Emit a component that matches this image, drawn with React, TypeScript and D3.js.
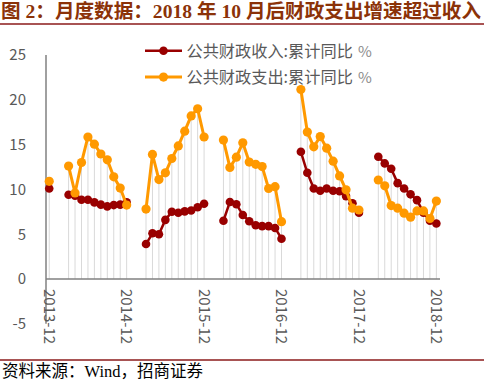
import React from 'react';
import * as d3 from 'd3';

const categories: string[] = [
  '2013-12',
  '2014-01','2014-02','2014-03','2014-04','2014-05','2014-06','2014-07','2014-08','2014-09','2014-10','2014-11','2014-12',
  '2015-01','2015-02','2015-03','2015-04','2015-05','2015-06','2015-07','2015-08','2015-09','2015-10','2015-11','2015-12',
  '2016-01','2016-02','2016-03','2016-04','2016-05','2016-06','2016-07','2016-08','2016-09','2016-10','2016-11','2016-12',
  '2017-01','2017-02','2017-03','2017-04','2017-05','2017-06','2017-07','2017-08','2017-09','2017-10','2017-11','2017-12',
  '2018-01','2018-02','2018-03','2018-04','2018-05','2018-06','2018-07','2018-08','2018-09','2018-10','2018-11','2018-12',
];

// 公共财政收入:累计同比 %
const revenue: (number | null)[] = [
  10.1,
  null, null, 9.4, 9.3, 8.85, 8.85, 8.55, 8.3, 8.1, 8.25, 8.3, 8.55,
  null, null, 3.9, 5.1, 5.0, 6.6, 7.5, 7.4, 7.55, 7.65, 8.0, 8.4,
  null, null, 6.5, 8.6, 8.35, 7.15, 6.45, 6.0, 5.9, 5.9, 5.7, 4.5,
  null, null, 14.2, 11.85, 10.1, 9.85, 10.1, 9.85, 9.8, 9.25, 8.45, 7.4,
  null, null, 13.65, 12.9, 12.3, 10.7, 10.1, 9.45, 8.8, 7.4, 6.5, 6.2,
];

// 公共财政支出:累计同比 %
const expenditure: (number | null)[] = [
  10.9,
  null, null, 12.6, 9.6, 13.0, 15.85, 15.05, 13.95, 13.3, 11.4, 10.15, 8.25,
  null, null, 7.8, 13.9, 11.1, 11.85, 13.45, 14.85, 16.5, 18.2, 19.0, 15.85,
  null, null, 15.5, 12.45, 13.6, 15.2, 13.05, 12.8, 12.55, 10.1, 10.3, 6.4,
  null, null, 21.15, 16.4, 14.75, 15.9, 14.6, 13.15, 11.5, 9.95, 7.9, 7.7,
  null, null, 11.05, 10.4, 8.2, 7.9, 7.35, 6.9, 7.6, 7.6, 6.75, 8.7,
];

const yTicks = [25, 20, 15, 10, 5, 0, -5];
const xTickLabels = ['2013-12', '2014-12', '2015-12', '2016-12', '2017-12', '2018-12'];
const seriesNames = ['公共财政收入:累计同比', '公共财政支出:累计同比'];
const seriesUnit = '%';
const titleText = '图 2：月度数据：2018 年 10 月后财政支出增速超过收入';
const sourceText = '资料来源：Wind，招商证券';

const RED = '#990000';
const ORANGE = '#FF9900';
const GRAY_TEXT = '#595959';
const FONT = '"Noto Sans CJK SC", "Noto Sans", sans-serif';
const SERIF = '"Liberation Serif", "DejaVu Serif", "Noto Sans CJK SC", serif';

export default function App() {
  const W = 484;
  const H = 381;
  const x = d3.scaleBand<string>().domain(categories).range([46, 439.6]);
  const bw = x.bandwidth();
  const cx = (i: number) => (x(categories[i]) as number) + bw / 2;
  const y = d3.scaleLinear().domain([-5, 25]).range([323.8, 55]);

  const lineGen = d3
    .line<number | null>()
    .defined((d) => d != null)
    .x((_, i) => cx(i))
    .y((d) => y(d as number));

  const series = [
    { name: seriesNames[0], values: revenue, color: RED, width: 2.5, r: 4.3 },
    { name: seriesNames[1], values: expenditure, color: ORANGE, width: 3, r: 4.6 },
  ];

  return (
    <svg
      width={W}
      height={H}
      style={{ position: 'absolute', left: 0, top: 0, background: '#fff' }}
    >
      <rect x={0} y={0} width={W} height={H} fill="#fff" />
      {/* title */}
      <text
        x={1}
        y={17.5}
        fontFamily={SERIF}
        fontWeight="bold"
        fontSize={19.6}
        fill="#8B3208"
      >
        {titleText}
      </text>
      <line x1={0} x2={W} y1={24} y2={24} stroke="#8B1A1A" strokeWidth={1.5} />

      {/* drop lines */}
      {categories.map((c, i) => {
        const a = revenue[i];
        const b = expenditure[i];
        if (a == null && b == null) return null;
        const top = Math.max(a ?? -Infinity, b ?? -Infinity);
        return (
          <line
            key={'d' + c}
            x1={cx(i)}
            x2={cx(i)}
            y1={y(top)}
            y2={y(0)}
            stroke="#D9D9D9"
            strokeWidth={1}
          />
        );
      })}

      {/* axes */}
      <line x1={46} x2={46} y1={y(25)} y2={y(-5)} stroke="#808080" strokeWidth={1.5} />
      <line x1={46} x2={440} y1={y(0)} y2={y(0)} stroke="#808080" strokeWidth={1.5} />

      {yTicks.map((t) => (
        <text
          key={'y' + t}
          x={26}
          y={y(t)}
          dy="0.36em"
          textAnchor="end"
          fontFamily={FONT}
          fontSize={15}
          fill={GRAY_TEXT}
        >
          {t}
        </text>
      ))}

      {xTickLabels.map((l) => {
        const i = categories.indexOf(l);
        const px = cx(i);
        return (
          <text
            key={'x' + l}
            transform={`translate(${px},289) rotate(90)`}
            dy="0.36em"
            textAnchor="start"
            fontFamily={FONT}
            fontSize={15}
            fill={GRAY_TEXT}
          >
            {l}
          </text>
        );
      })}

      {/* series */}
      {series.map((s) => (
        <g key={s.name}>
          <path
            d={lineGen(s.values) || ''}
            fill="none"
            stroke={s.color}
            strokeWidth={s.width}
            strokeLinejoin="round"
          />
          {s.values.map((v, i) =>
            v == null ? null : (
              <circle key={i} cx={cx(i)} cy={y(v)} r={s.r} fill={s.color} />
            )
          )}
        </g>
      ))}

      {/* legend */}
      {series.map((s, k) => {
        const ly = 50.7 + k * 26.4;
        return (
          <g key={'lg' + k}>
            <line x1={145} x2={182} y1={ly} y2={ly} stroke={s.color} strokeWidth={s.width} />
            <circle cx={163.5} cy={ly} r={s.r} fill={s.color} />
            <text
              x={186.5}
              y={ly}
              dy="0.36em"
              fontFamily={FONT}
              fontSize={16.2}
              fill={GRAY_TEXT}
            >
              {s.name}
              <tspan dx={5} fill="#8C8C8C" fontSize={15}>
                {seriesUnit}
              </tspan>
            </text>
          </g>
        );
      })}

      {/* source */}
      <line x1={0} x2={W} y1={360} y2={360} stroke="#8B1A1A" strokeWidth={1.5} />
      <text x={2} y={377} fontFamily={SERIF} fontSize={16.5} fill="#000">
        {sourceText}
      </text>
    </svg>
  );
}
